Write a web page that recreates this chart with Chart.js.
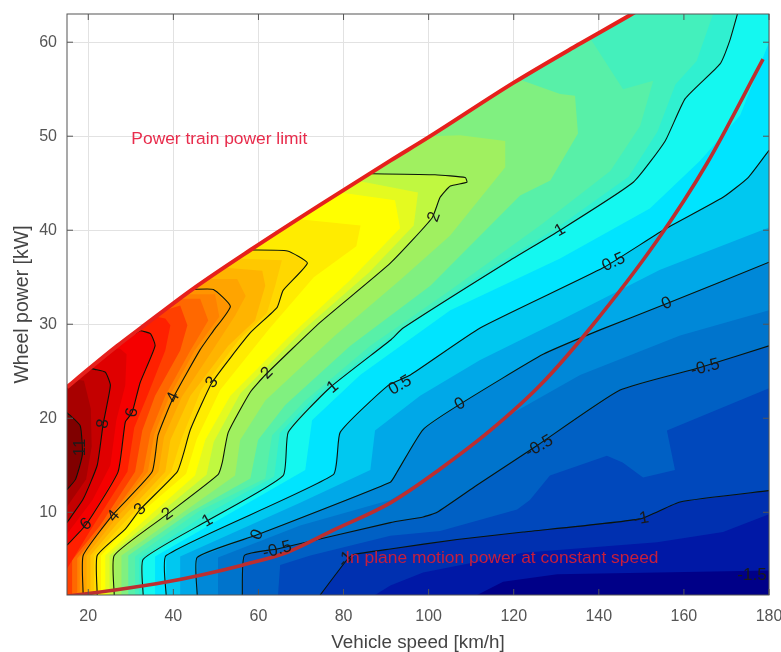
<!DOCTYPE html>
<html>
<head>
<meta charset="utf-8">
<title>Wheel power map</title>
<script src="https://cdn.jsdelivr.net/npm/chart.js@4/dist/chart.umd.min.js"></script>
<style>
    html, body { margin: 0; padding: 0; background: #fff; }
    #wrap { width: 781px; height: 652px; }
    canvas { filter: blur(0.65px); }
</style>
</head>
<body>
<div id="wrap"><canvas id="myChart" width="781" height="652"></canvas></div>
<script>
// axis ticks
const xTicks = [20, 40, 60, 80, 100, 120, 140, 160, 180];
const yTicks = [10, 20, 30, 40, 50, 60];

// the two red curves, [speed, power]
const powerLimit = [[15, 23.3], [20, 25.2], [26.8, 27.7], [32.9, 29.8], [44.7, 33.8], [58.1, 37.9], [74.5, 42.7], [91, 47.4], [100, 49.9], [120, 55.7], [135, 59.7], [147.4, 62.9], [150, 63.6]];
const motionPower = [[15.07, 1.07], [25.9, 1.7], [38.6, 2.6], [46.3, 3.3], [56.4, 4.4], [66.8, 5.75], [77.6, 8.1], [91, 11], [102.7, 14.6], [114.5, 18.7], [126.2, 23.5], [138, 29.6], [153.7, 38.9], [165.4, 47.1], [178.6, 58.2]];

// contour lines, everything left/above a line is >= its level
const cLm15 = [[111.4, 1.2], [117.5, 2.6], [130.2, 3.4], [153.7, 3.6], [180, 3.8]];
const cLm125 = [[87.4, 1.2], [91, 2.2], [98.7, 3.6], [122.2, 5.7], [153.7, 6.8], [169.2, 7.9], [180, 9.8]];
const cLm1 = [[74.5, 1.2], [80.9, 5], [82.3, 5.5], [91, 6.1], [106.7, 7.1], [122.2, 7.9], [149.7, 9.3], [159.1, 11.1], [180, 12.3]];
const cLm075 = [[64.6, 1.2], [65.1, 4.4], [72.2, 5.4], [91, 7.5], [102.7, 8], [120.8, 10.3], [123.8, 11.3], [128.5, 13.9], [141.9, 16], [145.6, 15.3], [150.4, 13.7], [157.9, 14.5], [156, 18.7], [180, 23.2]];
const cLm05 = [[56.2, 1.2], [56.7, 5.4], [64.4, 6.1], [91, 8.9], [98.7, 9.5], [102, 10], [111.4, 12.9], [125.5, 17.1], [145, 23], [163.8, 25.4], [180, 27.7]];
const cLm025 = [[50.5, 1.2], [50.5, 5.2], [69.8, 8.6], [91, 11.3], [102.7, 14.5], [116.8, 19.8], [135.6, 24.6], [159.1, 28.8], [180, 31.5]];
const cL0 = [[45.6, 1.2], [45.6, 5.2], [59.7, 7.6], [91, 13.2], [92.6, 14.3], [98.7, 18.8], [107.4, 21.5], [126.9, 26.8], [140.3, 29.4], [156, 32.2], [180, 36.6]];
const cL025 = [[41.6, 1.2], [41.6, 5.3], [69.8, 11], [86.3, 14.5], [87.4, 18.7], [98, 22.4], [112.1, 26.2], [130.9, 30.4], [154.4, 35.8], [180, 40.3]];
const cL05 = [[38.3, 1.2], [38.3, 5.4], [77.6, 14], [79.2, 18.5], [90.5, 23.5], [95.7, 24.6], [112.1, 29.6], [141, 36], [155.1, 40], [169.2, 43.5], [175.1, 45.6], [180, 48.5]];
const cL075 = [[35.7, 1.2], [35.7, 5.3], [71, 14.5], [72.6, 19.8], [83.9, 24.6], [105.1, 31.5], [130.9, 37], [152, 42.3], [163.8, 47.4], [173.2, 52.2], [180, 60]];
const cL1 = [[32.9, 1.2], [32.9, 5], [48, 9.1], [65.8, 13.9], [67, 18.5], [76.9, 23.3], [91, 28.3], [94, 29.6], [118.4, 36.6], [130.9, 40], [148.1, 45.1], [155.6, 49.5], [160.3, 54], [168.5, 57.7], [170.8, 60.2], [172.7, 63.2]];
const cL1125 = [[32, 1.2], [32, 5.1], [47, 9.6], [63.7, 13.8], [65, 18.4], [74, 22.6], [89, 28], [112, 35.2], [130, 40.2], [147, 45.7], [153.8, 50.5], [158, 55.5], [163, 58], [167, 63.2]];
const cL125 = [[31, 1.2], [31, 5.3], [46.3, 10.2], [61.6, 13.6], [63.2, 18.2], [71, 21.9], [86.3, 27.7], [105, 33.6], [126.2, 40.5], [142.7, 46.3], [149.7, 51.1], [152.8, 55.9], [145.7, 55], [138, 60.4]];
const cL15 = [[29.4, 1.2], [29.4, 5.4], [44, 10], [58.1, 13.6], [59.9, 17.7], [66.3, 21.4], [81.6, 27.7], [100.4, 34.1], [121.5, 43.7], [128.6, 45.3], [135.1, 50.3], [134.4, 54.3], [130.9, 54.5], [121.5, 56]];
const cL175 = [[27.8, 1.2], [27.8, 5.4], [40.4, 9.4], [54.5, 13.9], [55.7, 17.7], [61.6, 21.9], [78, 28.8], [93.3, 34.7], [105, 39.4], [118, 46.7], [118, 49.5], [107.4, 50.1], [100.8, 50]];
const cL2 = [[26.1, 1.2], [26.1, 5.4], [38.6, 9.8], [50.5, 14], [51.5, 15.3], [52.9, 18.5], [58.1, 22.8], [61.6, 24.6], [74.5, 30.2], [91, 36.5], [100.8, 41.3], [102.7, 43.5], [105.1, 44.7], [109, 45.1], [108.6, 45.6], [101.5, 45.9], [86.7, 46]];
const cL225 = [[25, 1.2], [25, 5.4], [36.5, 9.8], [47.8, 14], [49.5, 17.5], [55.7, 22.6], [70.5, 29.4], [86, 35.5], [96.5, 40.5], [97.5, 44], [83, 45.3]];
const cL25 = [[24, 1.2], [24, 5.4], [34.6, 9.7], [45.1, 13.9], [47.5, 17.7], [53.4, 22.4], [67.5, 28.8], [81.6, 34.7], [93.3, 40.2], [92.1, 43.2], [79.2, 44]];
const cL275 = [[23, 1.2], [23, 5.4], [31.5, 9.6], [43, 14.1], [45.5, 17.8], [51, 23], [62.5, 29.5], [73, 35], [83, 38.3], [84, 40.5], [69, 41.2]];
const cL3 = [[22.1, 1.2], [22.1, 5.4], [28.7, 8.2], [32.2, 10.3], [40.9, 14.3], [42.3, 16.1], [44, 18.8], [49.1, 23.8], [58.1, 29.1], [64.4, 31.8], [65.8, 33.6], [71.5, 36.5], [66.8, 37.8], [58.1, 37.9]];
const cL325 = [[21.3, 1.2], [21.3, 5.4], [27.8, 8.6], [39.5, 14.3], [41.8, 17.7], [46.5, 23], [55.5, 28.4], [62, 31.2], [64, 34.2], [65.5, 36.8], [55, 37]];
const cL35 = [[20.5, 1.2], [20.5, 5.4], [27, 8.9], [38.1, 14.3], [39.3, 17.7], [44, 22.4], [52.9, 27.7], [59.2, 30.4], [61.6, 34.1], [60.9, 35.7], [52.2, 36]];
const cL375 = [[19.6, 1.2], [19.6, 5.4], [26.4, 9.3], [36.5, 14.3], [37.8, 18], [42, 22.3], [49.6, 27.5], [54.5, 30.9], [57, 33], [55, 34.8], [48, 34.8]];
const cL4 = [[18.8, 1.2], [18.8, 5.4], [25.9, 9.8], [35, 14.3], [36.4, 18.2], [40, 22.2], [46.3, 27.3], [49.4, 29.3], [53.4, 31.9], [49.4, 33.7], [44.4, 33.7]];
const cL425 = [[18, 1.2], [18, 5.2], [25, 9.4], [34, 14.3], [35.5, 18.3], [39, 22.3], [45, 27.2], [50.8, 30.8], [49.8, 33.2], [43, 33.2]];
const cL45 = [[17.4, 1.2], [17.4, 5.1], [24.5, 9.1], [32.9, 14.3], [34.6, 18.4], [38.1, 22.4], [44, 27.2], [48.2, 30.4], [46.3, 32.7], [41.6, 32.7]];
const cL5 = [[16.2, 1.2], [16.2, 4.9], [22.8, 8.6], [31, 14.3], [32.7, 18.7], [35.7, 22.4], [41.6, 27.2], [43.3, 29.9], [41.6, 32], [38, 31.5]];
const cL55 = [[15, 4], [20.5, 8.1], [29.2, 14.3], [30.8, 19], [33.9, 22.4], [38.1, 27.2], [39.3, 29.9], [38.1, 30.6], [36, 30.8]];
const cL6 = [[15, 6.5], [19.5, 8.7], [27, 14.3], [28.7, 19.6], [30.3, 20.6], [32.2, 23.8], [35.7, 27.7], [34.6, 29], [32.2, 29.3], [31, 29]];
const cL7 = [[15, 7.7], [21, 11.3], [25.2, 15], [26.6, 19.8], [28.7, 23.5], [29, 26.8], [27.5, 27.4], [26.5, 27.4]];
const cL8 = [[15, 8.9], [18.8, 11.4], [22.1, 15], [23.5, 19.4], [25.2, 23.5], [24, 24.9], [21.6, 25.2], [20.5, 25.3]];
const cL95 = [[15, 10.6], [19.5, 13.5], [20.8, 17], [20.6, 21], [19, 24], [17.5, 24.1]];
const cL11 = [[15, 20.6], [18.1, 19.2], [18.6, 16.1], [17, 13.5], [15, 12.4]];

// filled levels, low to high, with the colour above each
const fillLevels = [cLm15, cLm125, cLm1, cLm075, cLm05, cLm025, cL0, cL025, cL05, cL075, cL1, cL1125, cL125, cL15, cL175, cL2, cL225, cL25, cL275, cL3, cL325, cL35, cL375, cL4, cL425, cL45, cL5, cL55, cL6, cL7, cL8, cL95, cL11];
const fillColors = ["#0018a6", "#0030b0", "#0048bc", "#0060c4", "#0074cc", "#0088d8", "#00a8e8", "#00c8f0", "#00e4ff", "#14f8f0", "#30f0d0", "#44f0bc", "#58f0a8", "#80f080", "#a0f060", "#c0f840", "#e4fa20", "#ffff00", "#ffec00", "#ffd800", "#ffc800", "#ffb400", "#ffa400", "#ff9400", "#ff8200", "#ff6800", "#ff4000", "#ff2000", "#f50000", "#e00000", "#c40000", "#a80000", "#800000"];
const baseColor = "#000088";
// only these get a black line
const lineLevels = [cLm1, cLm05, cL0, cL05, cL1, cL2, cL3, cL4, cL6, cL8, cL11];

// contour labels
const labelText = ["11", "8", "6", "6", "4", "4", "3", "3", "2", "2", "2", "1", "1", "1", "0.5", "0.5", "0", "0", "0", "-0.5", "-0.5", "-0.5", "-1", "-1", "-1.5"];
const labelX = [18.1, 23.5, 30.3, 19.5, 26, 40, 32.2, 49.1, 38.6, 62, 101.3, 48, 77.5, 130.9, 93.3, 143.5, 59.7, 107.4, 156, 64.4, 126, 165, 80.5, 150, 176];
const labelY = [16.9, 19.4, 20.6, 8.7, 9.6, 22.2, 10.3, 23.8, 9.8, 24.8, 41.4, 9.1, 23.3, 40, 23.5, 36.6, 7.6, 21.5, 32.2, 6, 17, 25.4, 5, 9.3, 3.3];
const labelAngle = [-90, -80, -80, -40, -50, -65, -45, -55, -35, -45, -70, -30, -40, -30, -30, -25, -65, -30, -25, -15, -30, -15, -50, -10, 0];

// red notes
const noteText = ["Power train power limit", "In plane motion power at constant speed"];
const noteX = [50.8, 80.4];
const noteY = [49.7, 5.1];
const noteAlign = ["center", "left"];
const noteColor = ["#e82c4c", "#c81e3c"];

const X_MIN = 15, X_MAX = 180, Y_MIN = 1.2, Y_MAX = 63;

function toPoints(list) {
    return list.map(p => ({ x: p[0], y: p[1] }));
}

// closes a contour along the limit curve, so the polygon is the region above the level
function regionAbove(contour) {
    const first = contour[0];
    const last = contour[contour.length - 1];
    const pts = contour.slice();
    if (last[0] >= X_MAX) pts.push([X_MAX, 64]);
    powerLimit.filter(p => p[0] < last[0]).reverse().forEach(p => pts.push(p));
    if (first[0] > X_MIN) pts.push([X_MIN, Y_MIN]);
    return pts;
}

const datasets = [];
let drawOrder = 1000;

// whole area under the limit first
const baseArea = powerLimit.slice().reverse();
baseArea.push([X_MIN, Y_MIN], [X_MAX, Y_MIN], [X_MAX, 64]);
datasets.push({
    data: toPoints(baseArea), showLine: true, fill: "shape", backgroundColor: baseColor,
    borderWidth: 0, pointRadius: 0, order: drawOrder--
});

fillLevels.forEach((c, i) => {
    datasets.push({
        data: toPoints(regionAbove(c)), showLine: true, fill: "shape", backgroundColor: fillColors[i],
        borderWidth: 0, pointRadius: 0, order: drawOrder--
    });
});

lineLevels.forEach(c => {
    datasets.push({
        data: toPoints(c), showLine: true, fill: false, borderColor: "#0a140a", borderWidth: 1.1,
        pointRadius: 0, tension: 0.15, order: 20
    });
});

datasets.push({
    data: toPoints(motionPower), showLine: true, fill: false, borderColor: "#bc2e30", borderWidth: 3.6,
    pointRadius: 0, cubicInterpolationMode: "monotone", order: 2
});
datasets.push({
    data: toPoints(powerLimit), showLine: true, fill: false, borderColor: "#e6201c", borderWidth: 4,
    pointRadius: 0, cubicInterpolationMode: "monotone", order: 1
});

// contour labels, red notes, axes box and inward ticks
const decorations = {
    id: "decorations",
    afterDatasetsDraw(chart) {
        const { ctx, chartArea: a, scales: { x, y } } = chart;
        ctx.save();
        ctx.textAlign = "center";
        ctx.textBaseline = "middle";
        ctx.fillStyle = "#1a1a1a";
        ctx.font = '17px "Liberation Sans"';
        labelText.forEach((t, i) => {
            ctx.save();
            ctx.translate(x.getPixelForValue(labelX[i]), y.getPixelForValue(labelY[i]));
            ctx.rotate(labelAngle[i] * Math.PI / 180);
            ctx.fillText(t, 0, 0);
            ctx.restore();
        });
        ctx.font = '17.4px "Liberation Sans"';
        noteText.forEach((t, i) => {
            ctx.textAlign = noteAlign[i];
            ctx.fillStyle = noteColor[i];
            ctx.fillText(t, x.getPixelForValue(noteX[i]), y.getPixelForValue(noteY[i]));
        });
        ctx.strokeStyle = "#555";
        ctx.lineWidth = 1;
        ctx.strokeRect(a.left, a.top, a.right - a.left, a.bottom - a.top);
        ctx.beginPath();
        xTicks.forEach(v => {
            const px = x.getPixelForValue(v);
            ctx.moveTo(px, a.top); ctx.lineTo(px, a.top + 6);
            ctx.moveTo(px, a.bottom); ctx.lineTo(px, a.bottom - 6);
        });
        yTicks.forEach(v => {
            const py = y.getPixelForValue(v);
            ctx.moveTo(a.left, py); ctx.lineTo(a.left + 6, py);
            ctx.moveTo(a.right, py); ctx.lineTo(a.right - 6, py);
        });
        ctx.stroke();
        ctx.restore();
    }
};

new Chart(document.getElementById("myChart").getContext("2d"), {
    type: "scatter",
    data: { datasets },
    plugins: [decorations],
    options: {
        responsive: false,
        animation: false,
        layout: { padding: { top: 14, right: 12, bottom: 0, left: 0 } },
        plugins: { legend: { display: false }, tooltip: { enabled: false } },
        scales: {
            x: {
                min: X_MIN, max: X_MAX,
                afterBuildTicks: s => { s.ticks = xTicks.map(v => ({ value: v })); },
                afterFit: s => { s.height = 57; s.paddingLeft = 0; s.paddingRight = 0; },
                ticks: { color: "#555", font: { family: "Liberation Sans", size: 16 }, maxRotation: 0, padding: 12 },
                grid: { color: "#e2e2e2", drawTicks: false },
                border: { display: false },
                title: { display: true, text: "Vehicle speed [km/h]", color: "#444", font: { family: "Liberation Sans", size: 18.8 }, padding: { top: 6, bottom: -2 } }
            },
            y: {
                min: Y_MIN, max: Y_MAX,
                afterBuildTicks: s => { s.ticks = yTicks.map(v => ({ value: v })); },
                afterFit: s => { s.width = 67; s.paddingTop = 0; s.paddingBottom = 0; },
                ticks: { color: "#555", font: { family: "Liberation Sans", size: 16 }, padding: 10 },
                grid: { color: "#e2e2e2", drawTicks: false },
                border: { display: false },
                title: { display: true, text: "Wheel power [kW]", color: "#444", font: { family: "Liberation Sans", size: 19.5 }, padding: { top: 11, bottom: 2 } }
            }
        }
    }
});
</script>
</body>
</html>
